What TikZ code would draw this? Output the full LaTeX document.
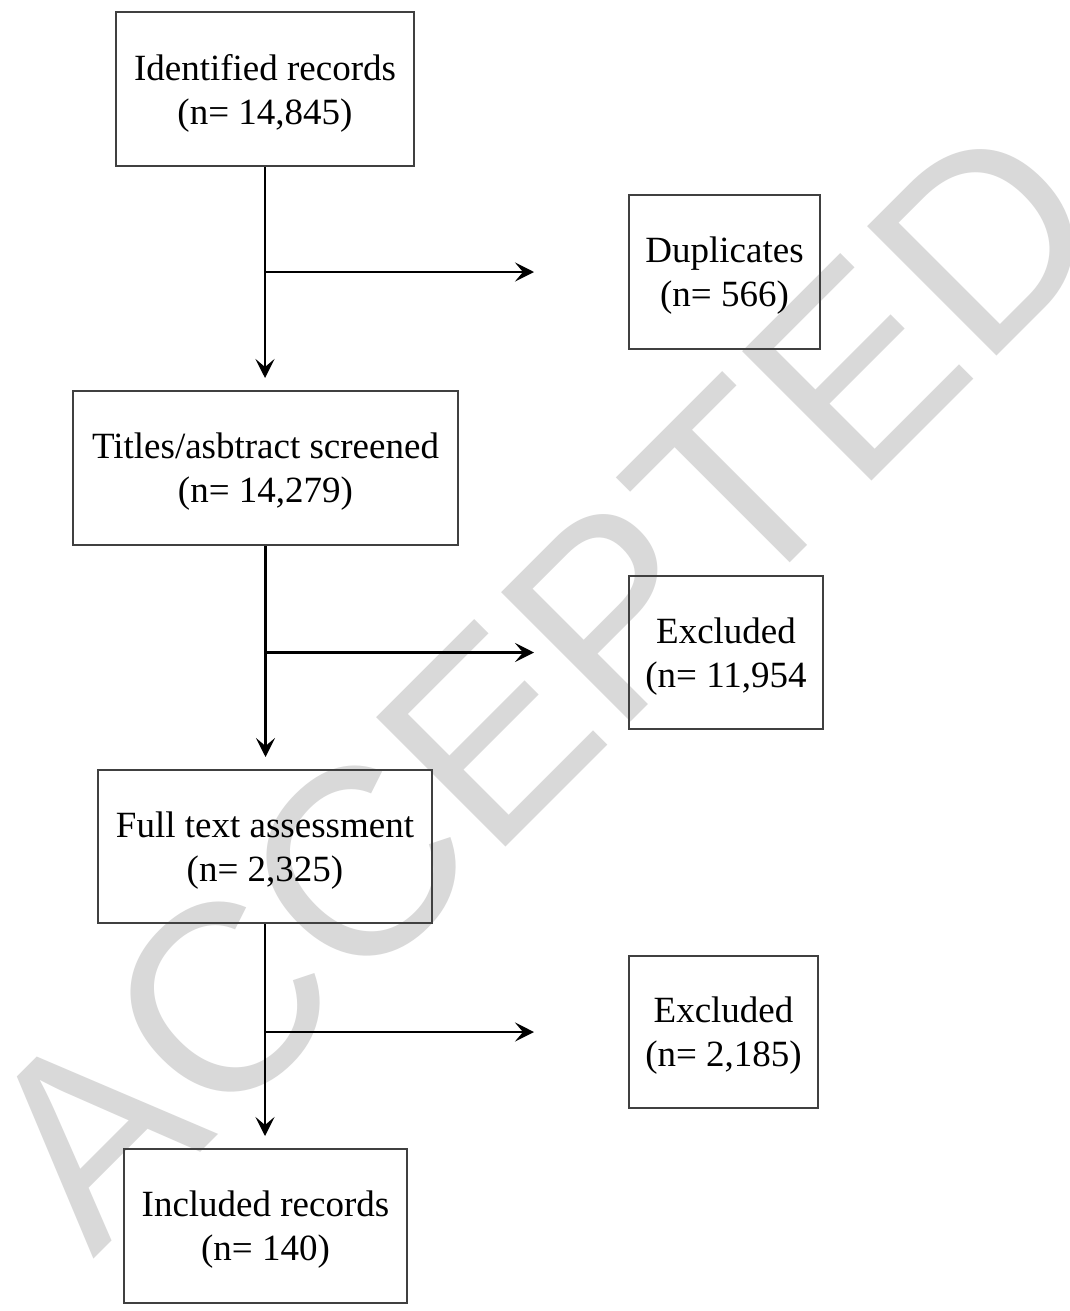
\documentclass[tikz,border=0pt]{standalone}
\usepackage{fontspec}
\setmainfont{Liberation Serif}
\newfontfamily\wmfont{Liberation Sans}
\usetikzlibrary{arrows.meta}
\tikzset{
  box/.style={draw=black!75, line width=2pt, inner sep=0pt},
  txt/.style={inner sep=0pt, align=center, yshift=-4pt,
    font=\fontsize{37}{44}\selectfont},
  arr/.style={draw=black, line width=2.6pt, -{Stealth[length=19pt,width=19pt,inset=8pt]}},
  wm/.style={text=black!15, inner sep=0pt, anchor=base west, rotate=45,
    font=\wmfont\fontsize{266}{300}\selectfont}
}
\begin{document}
\begin{tikzpicture}[x=1pt,y=-1pt]
\useasboundingbox (0,0) rectangle (1069,1311);
\clip (0,0) rectangle (1069,1311);
\fill[white] (0,0) rectangle (1069,1311);
% watermark
\node[wm] (mark) at (93,1260) {ACCEPTED};
% boxes
\node[box, minimum width=298pt, minimum height=154pt] (idr) at (265,89) {};
\node[box, minimum width=191pt, minimum height=154pt] (dup) at (724.5,272) {};
\node[box, minimum width=385pt, minimum height=154pt] (tas) at (265.5,468) {};
\node[box, minimum width=194pt, minimum height=153pt] (exa) at (726,652.5) {};
\node[box, minimum width=334pt, minimum height=153pt] (fta) at (265,846.5) {};
\node[box, minimum width=189pt, minimum height=152pt] (exb) at (723.5,1032) {};
\node[box, minimum width=283pt, minimum height=154pt] (inc) at (265.5,1226) {};
% texts
\node[txt] (idrt) at (idr.center) {Identified records\\(n= 14,845)};
\node[txt] (dupt) at (dup.center) {Duplicates\\(n= 566)};
\node[txt] (tast) at (tas.center) {Titles/asbtract screened\\(n= 14,279)};
\node[txt] (exat) at (exa.center) {Excluded\\(n= 11,954};
\node[txt] (ftat) at (fta.center) {Full text assessment\\(n= 2,325)};
\node[txt] (exbt) at (exb.center) {Excluded\\(n= 2,185)};
\node[txt] (inct) at (inc.center) {Included records\\(n= 140)};
% vertical arrows
\draw[arr, shorten >=12pt] (idr.south) -- (idr.south |- tas.north);
\draw[arr, shorten >=12pt] (tas.south) -- (tas.south |- fta.north);
\draw[arr, shorten >=12pt] (fta.south) -- (fta.south |- inc.north);
% side arrows
\draw[arr, shorten >=94pt] (idr.south |- dup.west) -- (dup.west);
\draw[arr, shorten >=94pt] (idr.south |- exa.west) -- (exa.west);
\draw[arr, shorten >=94pt] (idr.south |- exb.west) -- (exb.west);
\end{tikzpicture}
\end{document}
